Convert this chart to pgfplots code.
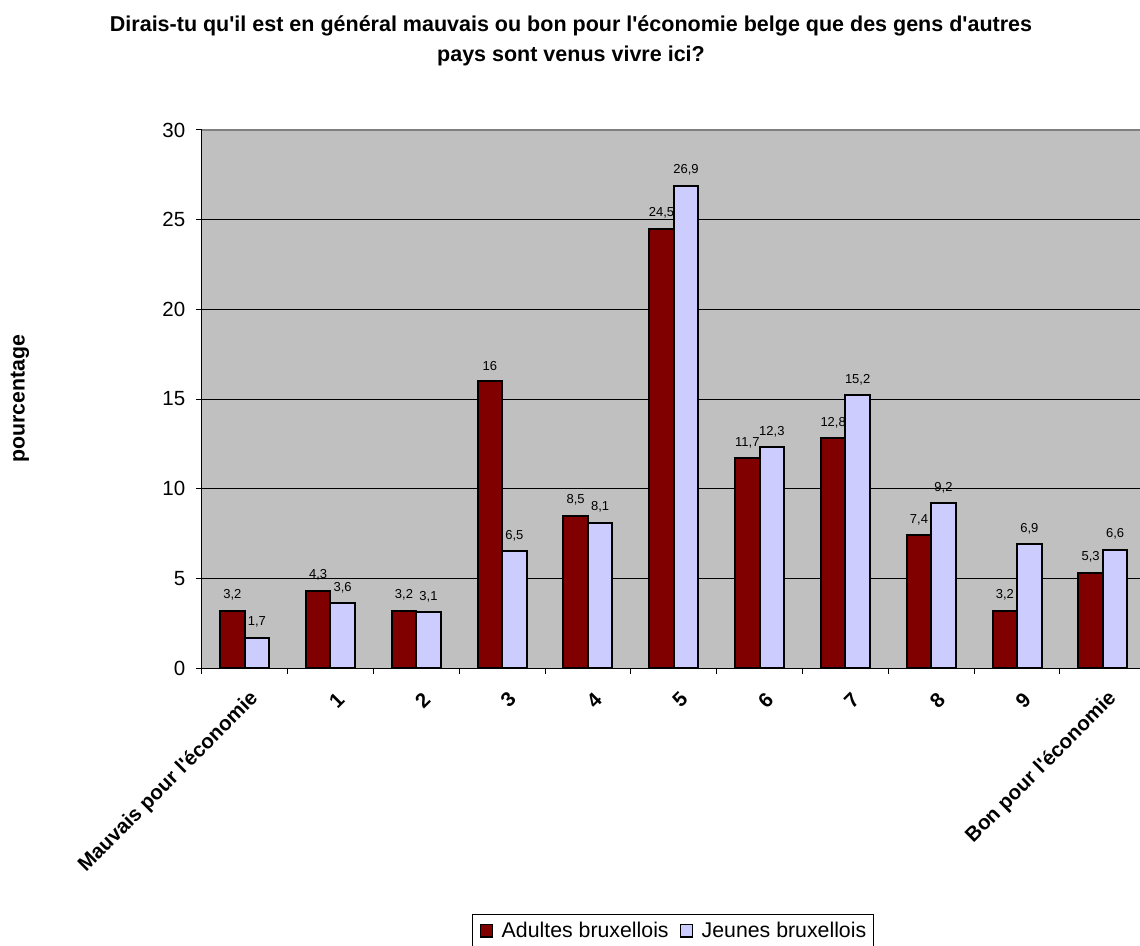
\documentclass[border=0pt]{standalone}
\usepackage{fontspec}
\setmainfont{Liberation Sans}
\usepackage{pgfplots}
\pgfplotsset{compat=1.18}
\definecolor{bordeaux}{HTML}{800000}
\definecolor{lavande}{HTML}{CCCCFF}
\definecolor{fond}{HTML}{C0C0C0}
\definecolor{cadre}{HTML}{808080}

\begin{document}
\begin{tikzpicture}
\path[use as bounding box] (0pt,0pt) rectangle (1140pt,945pt);
\begin{axis}[
  at={(201.7pt,277pt)}, anchor=south west,
  scale only axis, width=944.1pt, height=538pt,
  xmin=-0.5, xmax=10.5, ymin=0, ymax=30,
  ybar=0pt, bar width=24.5pt,
  axis background/.style={fill=fond},
  axis x line*=bottom, axis y line*=left,
  axis line style={black, line width=1pt},
  tick align=outside, major tick length=6pt,
  tick style={black, line width=1pt},
  xtick={-0.5,0.5,...,10.5}, xticklabel=\empty,
  extra x ticks={0,1,2,3,4,5,6,7,8,9,10},
  extra x tick labels={Mauvais pour l\textquotesingle{}économie,1,2,3,4,5,6,7,8,9,Bon pour l\textquotesingle{}économie},
  extra x tick style={major tick length=0pt, grid=none,
    xticklabel style={rotate=45, anchor=east, font=\fontsize{20.5}{24}\selectfont\bfseries,
      xshift=-9pt, yshift=-27pt}},
  ytick={0,5,...,30},
  yticklabel style={font=\fontsize{20.5}{24}\selectfont, xshift=-7pt},
  ymajorgrids, grid style={black, line width=0.8pt},
  /pgf/number format/use comma,
  /pgf/number format/assume math mode=true,
  nodes near coords,
  nodes near coords style={font=\fontsize{13}{15}\selectfont, anchor=south, yshift=6pt},
  legend columns=2,
  legend style={at={(axis description cs:0.4992,-0.4572)}, anchor=north,
    draw=black, line width=1pt, font=\fontsize{21.3}{25}\selectfont,
    inner xsep=5pt, inner ysep=6pt,
    /tikz/every even column/.append style={column sep=7pt}},
  legend image code/.code={\draw[#1, line width=1.2pt] (2pt,-6pt) rectangle (14pt,6.5pt);
    \path (0pt,0pt) (20pt,0pt);},
]
\addplot[fill=bordeaux, draw=black, line width=2pt] coordinates {
  (0,3.2) (1,4.3) (2,3.2) (3,16) (4,8.5) (5,24.5) (6,11.7) (7,12.8) (8,7.4) (9,3.2) (10,5.3)};
\addplot[fill=lavande, draw=black, line width=2pt] coordinates {
  (0,1.7) (1,3.6) (2,3.1) (3,6.5) (4,8.1) (5,26.9) (6,12.3) (7,15.2) (8,9.2) (9,6.9) (10,6.6)};
\legend{Adultes bruxellois, Jeunes bruxellois}
\draw[cadre, line width=1.5pt] (rel axis cs:0,1) -- (rel axis cs:1,1);
\end{axis}
\node[anchor=base, font=\fontsize{21.5}{25}\selectfont\bfseries] at (571pt,913pt)
  {Dirais-tu qu\textquotesingle{}il est en général mauvais ou bon pour l\textquotesingle{}économie belge que des gens d\textquotesingle{}autres};
\node[anchor=base, font=\fontsize{21.5}{25}\selectfont\bfseries] at (571pt,883pt)
  {pays sont venus vivre ici?};
\node[rotate=90, font=\fontsize{21.3}{24}\selectfont\bfseries] at (20pt,546pt) {pourcentage};
\end{tikzpicture}
\end{document}
